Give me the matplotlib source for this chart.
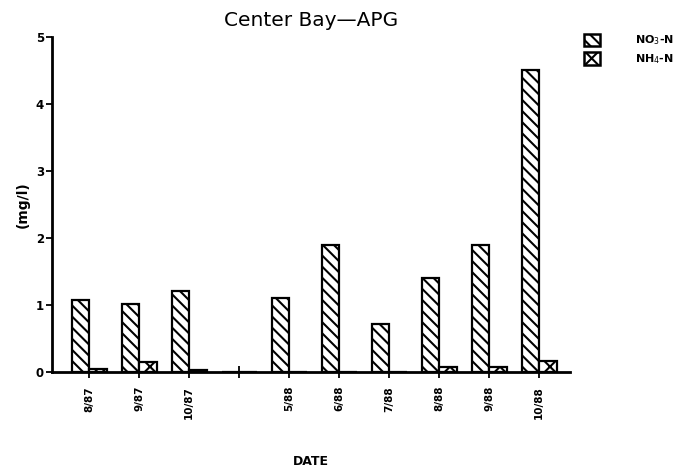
import numpy as np
import matplotlib
matplotlib.use("Agg")
import matplotlib.pyplot as plt
from matplotlib.patches import Patch

dates = ["8/87", "9/87", "10/87", "", "5/88", "6/88", "7/88", "8/88", "9/88", "10/88"]
no3 = [1.07, 1.01, 1.21, 0, 1.10, 1.90, 0.72, 1.40, 1.90, 4.51]
nh4 = [0.04, 0.15, 0.03, 0, 0, 0, 0, 0.07, 0.07, 0.17]

plt.rcParams['hatch.linewidth'] = 1.5
plt.rcParams['font.family'] = 'DejaVu Sans'

fig = plt.figure(figsize=(6.96, 4.71), dpi=100)
ax = fig.add_axes([0.075, 0.21, 0.744, 0.711])

x = np.arange(len(dates))
w = 0.35
ax.bar(x, no3, width=-w, align='edge', facecolor='white', edgecolor='black',
       linewidth=1.6, hatch='\\\\\\')
ax.bar(x, nh4, width=w, align='edge', facecolor='white', edgecolor='black',
       linewidth=1.6, hatch='xx')

ax.set_xlim(-0.74, 9.62)
ax.set_ylim(0, 5)
ax.set_xticks(x)
ax.set_xticklabels(dates, rotation=90, fontsize=7.5, fontweight='bold')
ax.set_yticks(range(6))
ax.set_yticklabels([str(i) for i in range(6)], fontsize=8.5, fontweight='bold')
ax.tick_params(axis='x', direction='inout', length=8, width=1.3, pad=6)
ax.tick_params(axis='y', direction='out', length=4, width=1.3, pad=2)

for s in ['top', 'right']:
    ax.spines[s].set_visible(False)
for s in ['left', 'bottom']:
    ax.spines[s].set_linewidth(2)

ax.set_title("Center Bay\u2014APG", fontsize=14.5, pad=8)
ax.set_ylabel("(mg/l)", fontsize=10, fontweight='bold', labelpad=4)
ax.set_xlabel("DATE", fontsize=9, fontweight='bold', labelpad=26)

handles = [Patch(facecolor='white', edgecolor='black', linewidth=1.8, hatch='\\\\\\'),
           Patch(facecolor='white', edgecolor='black', linewidth=1.8, hatch='xx')]
fig.legend(handles, [r'NO$_3$-N', r'NH$_4$-N'], loc='upper left',
           bbox_to_anchor=(0.825, 0.95), frameon=False, handlelength=1.4,
           handleheight=1.4, handletextpad=3.2, labelspacing=0.45,
           prop={'size': 8, 'weight': 'bold'})

fig.savefig("out.png", dpi=100)
